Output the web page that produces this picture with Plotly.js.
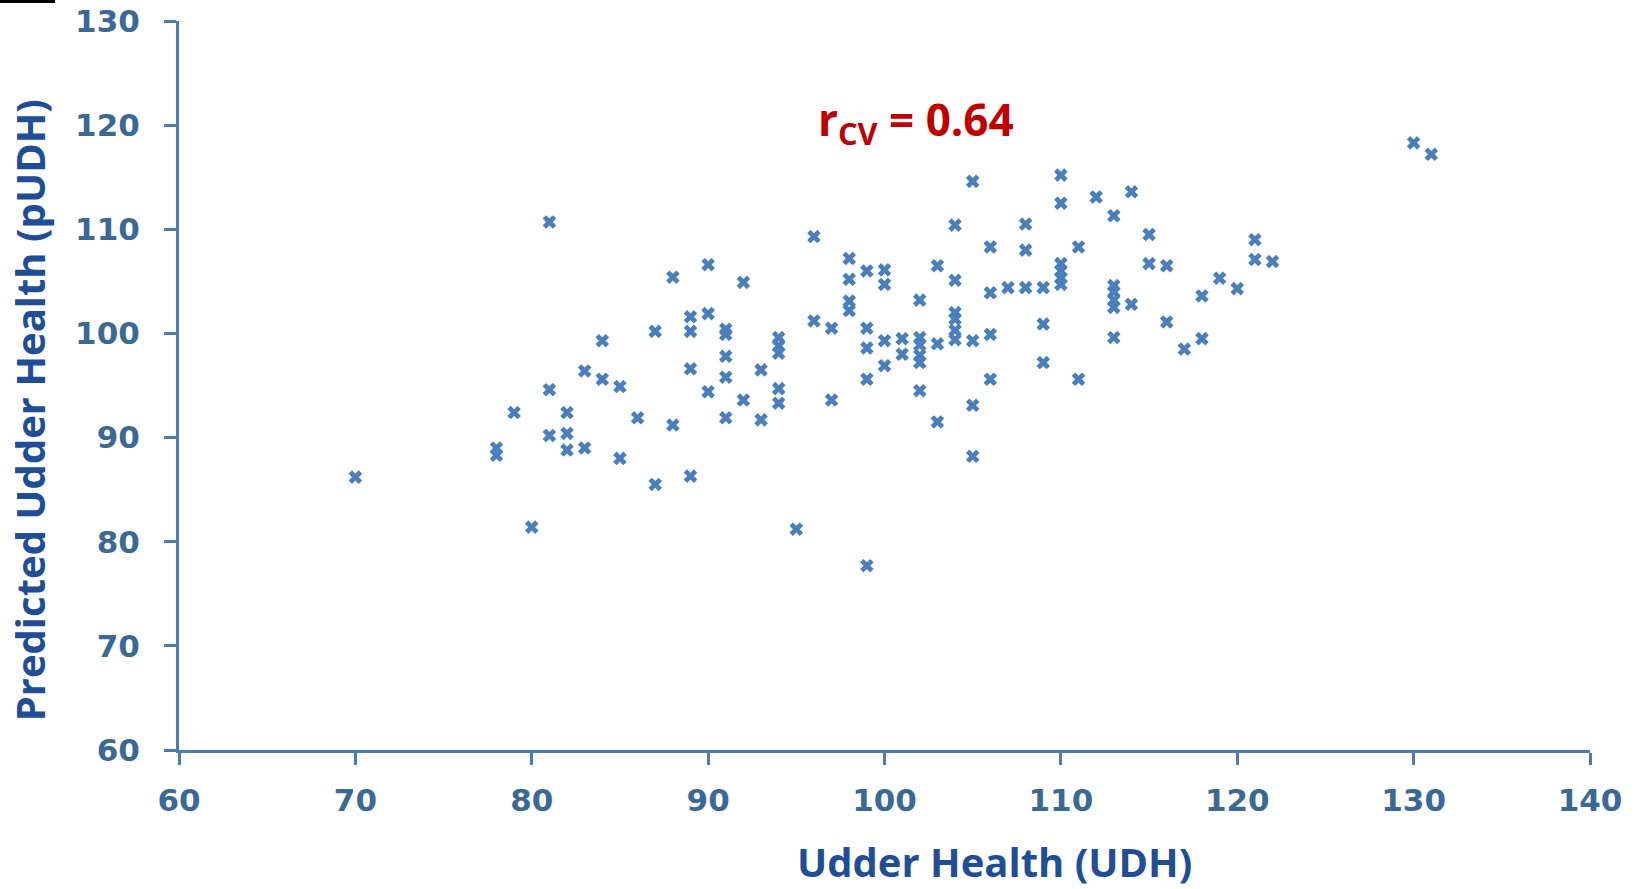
<!DOCTYPE html>
<html>
<head>
<meta charset="utf-8">
<script src="https://cdn.plot.ly/plotly-3.0.1.min.js"></script>
<style>html,body{margin:0;padding:0;background:#fff;}#chart{width:1634px;height:889px;}</style>
</head>
<body>
<div id="chart"></div>
<script>
// Udder Health (UDH) observed values
const udh = [70,78,78,79,80,81,81,81,82,82,82,83,83,84,84,85,85,86,87,87,88,88,89,89,89,89,90,90,90,91,91,91,91,91,92,92,93,93,94,94,94,94,94,95,96,96,97,97,98,98,98,98,99,99,99,99,99,100,100,100,100,101,101,102,102,102,102,102,102,103,103,103,104,104,104,104,104,104,105,105,105,105,106,106,106,106,107,108,108,108,109,109,109,110,110,110,110,110,110,111,111,112,113,113,113,113,113,113,114,114,115,115,116,116,117,118,118,119,120,121,121,122,130,131];
// Predicted Udder Health (pUDH)
const pudh = [86.2,89.0,88.3,92.4,81.4,110.7,94.6,90.2,92.4,90.4,88.8,96.4,89.0,99.3,95.6,94.9,88.0,91.9,100.2,85.5,105.4,91.2,101.6,100.2,96.6,86.3,106.6,101.9,94.4,100.4,99.9,97.8,95.8,91.9,104.9,93.6,96.5,91.7,99.6,98.8,98.1,94.7,93.3,81.2,109.3,101.2,100.5,93.6,107.2,105.2,103.1,102.2,106.0,100.5,98.6,95.6,77.7,106.1,104.7,99.3,96.9,99.5,98.0,103.2,99.6,98.9,97.9,97.2,94.5,106.5,99.0,91.5,110.4,105.1,102.0,101.4,100.3,99.4,114.6,99.3,93.1,88.2,108.3,103.9,99.9,95.6,104.4,110.5,108.0,104.4,104.4,100.9,97.2,115.2,112.5,106.7,106.0,105.3,104.7,108.3,95.6,113.1,111.3,104.6,104.0,103.2,102.5,99.6,113.6,102.8,109.5,106.7,106.5,101.1,98.5,103.6,99.5,105.3,104.3,109.0,107.1,106.9,118.3,117.2];
const xTicks = [60,70,80,90,100,110,120,130,140];
const yTicks = [60,70,80,90,100,110,120,130];
const xTitle = "Udder Health (UDH)";
const yTitle = "Predicted Udder Health (pUDH)";
const statLabel = "r<sub>CV</sub> = 0.64";

const axisColor = "#4b7db3";
const tickFont = {family: "DejaVu Sans", size: 31, color: "#3b6996", weight: 700};
const titleFont = {family: "Open Sans", size: 40, color: "#1f4e96", weight: 700};

const trace = {
  x: udh, y: pudh, type: "scatter", mode: "markers",
  marker: {symbol: "x", size: 12, color: "#4a7fbd", line: {width: 0}},
  hoverinfo: "x+y"
};

const axisCommon = {
  showgrid: false, zeroline: false, showline: true,
  linecolor: axisColor, linewidth: 3,
  ticks: "outside", ticklen: 12, tickwidth: 3, tickcolor: axisColor,
  tickfont: tickFont, mirror: false
};

const layout = {
  width: 1634, height: 889,
  margin: {l: 179, r: 44, t: 21, b: 139},
  paper_bgcolor: "#ffffff", plot_bgcolor: "#ffffff",
  showlegend: false,
  xaxis: Object.assign({}, axisCommon, {range: [60, 140], tickvals: xTicks, ticktext: xTicks.map(String), ticklabelstandoff: 9}),
  yaxis: Object.assign({}, axisCommon, {range: [60, 130], tickvals: yTicks, ticktext: yTicks.map(String), ticklabelstandoff: 18}),
  annotations: [
    {text: statLabel, xref: "paper", yref: "paper", x: 0.5225, y: 0.862, xanchor: "center", yanchor: "middle", showarrow: false,
     font: {family: "Open Sans", size: 44, color: "#c00000", weight: 700}},
    {text: xTitle, xref: "paper", yref: "paper", x: 0.578, y: -0.153, xanchor: "center", yanchor: "middle", showarrow: false, font: titleFont},
    {text: yTitle, xref: "paper", yref: "paper", x: -0.106, y: 0.4665, xanchor: "center", yanchor: "middle", textangle: -90, showarrow: false, font: titleFont}
  ],
  shapes: [
    {type: "rect", xref: "paper", yref: "paper", x0: -0.1269, x1: -0.0879, y0: 1.0247, y1: 1.0288, fillcolor: "#000000", line: {width: 0}}
  ]
};

Plotly.newPlot("chart", [trace], layout, {displayModeBar: false, staticPlot: true});
</script>
</body>
</html>
